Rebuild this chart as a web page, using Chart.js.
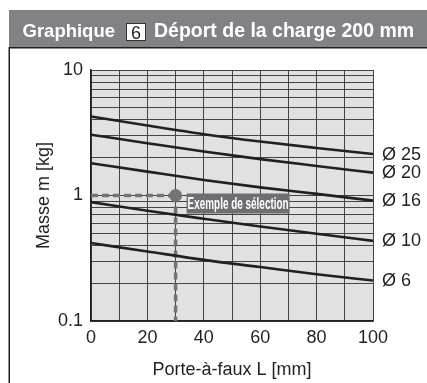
<!DOCTYPE html>
<html lang="fr">
<head>
<meta charset="utf-8">
<title>Graphique 6 - Déport de la charge 200 mm</title>
<script src="https://cdn.jsdelivr.net/npm/chart.js@4/dist/chart.umd.min.js"></script>
<style>
  html, body { margin: 0; padding: 0; background: #fff; }
  #wrap { width: 427px; height: 383px; }
</style>
</head>
<body>
<div id="wrap"><canvas id="graphique" width="427" height="383"></canvas></div>
<script>
/* graphique 6 - déport de la charge 200 mm */

const POLICE = '"Liberation Sans", Arial, Helvetica, sans-serif';
const NOIR = "#231f20";
const GRIS = "#808285";
const GRIS_EX = "#727376";

const longueurs = [0, 20, 40, 60, 80, 100];           // porte-à-faux L [mm]
const masse25 = [4.26, 3.61, 3.08, 2.69, 2.39, 2.14];  // Ø 25
const masse20 = [3.05, 2.61, 2.24, 1.95, 1.72, 1.52];  // Ø 20
const masse16 = [1.81, 1.55, 1.33, 1.16, 1.03, 0.91];  // Ø 16
const masse10 = [0.885, 0.755, 0.652, 0.566, 0.495, 0.435]; // Ø 10
const masse6 = [0.418, 0.358, 0.307, 0.269, 0.236, 0.21];   // Ø 6
const diametres = ["Ø 25", "Ø 20", "Ø 16", "Ø 10", "Ø 6"];

/* exemple de sélection */
const exempleL = [0, 30];
const exempleM = [1, 0.1];

/* graduations */
const graduationsY = [0.1, 0.2, 0.3, 0.4, 0.5, 0.6, 0.7, 0.8, 0.9,
  1, 2, 3, 4, 5, 6, 7, 8, 9, 10];
const etiquettesY = ["0.1", "1", "10"];
const etiquettesX = [0, 20, 40, 60, 80, 100];

/* ===== utilitaires ===== */
function serie(valeurs) {
  return longueurs.map((l, i) => ({ x: l, y: valeurs[i] }));
}

function courbe(valeurs) {
  return {
    data: serie(valeurs),
    borderColor: NOIR,
    borderWidth: 2.6,
    pointRadius: 0,
    cubicInterpolationMode: "monotone",
    fill: false
  };
}

/* ===== plugin : cadre, titre, fond, étiquettes ===== */
const decor = {
  id: "decor",
  beforeDraw(chart) {
    const { ctx, chartArea: a } = chart;
    ctx.save();

    // bandeau du titre
    ctx.fillStyle = GRIS;
    ctx.fillRect(9, 10, 418, 37);
    ctx.fillStyle = "#fff";
    ctx.font = "bold 18.5px " + POLICE;
    ctx.textBaseline = "alphabetic";
    ctx.textAlign = "left";
    ctx.fillText("Graphique", 22.5, 37);
    ctx.fillRect(126, 23.5, 20, 17);
    ctx.strokeStyle = "#333";
    ctx.lineWidth = 1;
    ctx.strokeRect(126.5, 23.5, 19, 17);
    ctx.fillStyle = NOIR;
    ctx.font = "18px " + POLICE;
    ctx.textAlign = "center";
    ctx.fillText("6", 136, 38.5);
    ctx.fillStyle = "#fff";
    ctx.font = "bold 19.5px " + POLICE;
    ctx.textAlign = "left";
    ctx.fillText("Déport de la charge 200 mm", 154, 37);

    // cadre
    ctx.strokeStyle = NOIR;
    ctx.lineWidth = 1.5;
    ctx.beginPath();
    ctx.moveTo(427, 47.75);
    ctx.lineTo(9.25, 47.75);
    ctx.lineTo(9.25, 383);
    ctx.stroke();

    // fond de la zone de tracé
    ctx.fillStyle = "#e1e1e2";
    ctx.fillRect(a.left, a.top, a.right - a.left, a.bottom - a.top);
    ctx.restore();
  },
  afterDatasetsDraw(chart) {
    const { ctx, scales: { x, y } } = chart;
    ctx.save();

    // étiquettes des diamètres au bout des courbes
    const fins = [masse25, masse20, masse16, masse10, masse6].map(s => s[s.length - 1]);
    ctx.fillStyle = NOIR;
    ctx.font = "18px " + POLICE;
    ctx.textAlign = "left";
    ctx.textBaseline = "middle";
    diametres.forEach((d, i) => {
      ctx.fillText(d, x.right + 9, y.getPixelForValue(fins[i]) + 0.5);
    });

    // boîte "Exemple de sélection"
    const px = x.getPixelForValue(exempleL[1]) + 11;
    const py = y.getPixelForValue(exempleM[0]) - 2;
    ctx.fillStyle = "#6d6e71";
    ctx.fillRect(px, py, 103, 20);
    ctx.fillStyle = "#fff";
    ctx.font = "bold 16.5px " + POLICE;
    ctx.textAlign = "center";
    ctx.fillText("Exemple de sélection", px + 51.5, py + 10.5, 101);
    ctx.restore();
  }
};

/* ===== graphique ===== */
const ctx = document.getElementById("graphique").getContext("2d");

new Chart(ctx, {
  type: "line",
  data: {
    datasets: [
      courbe(masse25),
      courbe(masse20),
      courbe(masse16),
      courbe(masse10),
      courbe(masse6),
      {
        data: [{ x: exempleL[0], y: exempleM[0] }, { x: exempleL[1], y: exempleM[0] }],
        borderColor: GRIS_EX,
        borderWidth: 3.5,
        borderDash: [7, 4],
        pointRadius: 0
      },
      {
        data: [{ x: exempleL[1], y: exempleM[0] }, { x: exempleL[1], y: exempleM[1] }],
        borderColor: GRIS_EX,
        borderWidth: 3.5,
        borderDash: [7, 4],
        pointRadius: 0
      },
      {
        data: [{ x: exempleL[1], y: exempleM[0] }],
        showLine: false,
        pointRadius: 6.5,
        pointBackgroundColor: GRIS_EX,
        pointBorderWidth: 0
      }
    ]
  },
  options: {
    responsive: false,
    animation: false,
    devicePixelRatio: 1,
    layout: { padding: { top: 70, right: 54, left: 0, bottom: 0 } },
    plugins: {
      legend: { display: false },
      tooltip: { enabled: false }
    },
    scales: {
      x: {
        type: "linear",
        min: 0,
        max: 100,
        afterFit: s => { s.height = 62; },
        grid: { color: "#454547", lineWidth: 1, drawTicks: false },
        border: { color: NOIR, width: 1.5 },
        ticks: {
          stepSize: 10,
          autoSkip: false,
          maxRotation: 0,
          padding: 6,
          color: NOIR,
          font: { family: POLICE, size: 18 },
          callback: v => etiquettesX.includes(v) ? String(v) : ""
        },
        title: {
          display: true,
          text: "Porte-à-faux L [mm]",
          color: NOIR,
          font: { family: POLICE, size: 18 },
          padding: { top: 0, bottom: 2.5 }
        }
      },
      y: {
        type: "logarithmic",
        min: 0.1,
        max: 10,
        afterFit: s => { s.width = 91; },
        afterBuildTicks: s => { s.ticks = graduationsY.map(v => ({ value: v })); },
        grid: { color: "#454547", lineWidth: 1, drawTicks: false },
        border: { color: NOIR, width: 1.5 },
        ticks: {
          autoSkip: false,
          padding: 8,
          color: NOIR,
          font: { family: POLICE, size: 18 },
          callback: v => etiquettesY.includes(String(v)) ? String(v) : ""
        },
        title: {
          display: true,
          text: "Masse m [kg]",
          color: NOIR,
          font: { family: POLICE, size: 18 },
          padding: { top: 33.5, bottom: 0 }
        }
      }
    }
  },
  plugins: [decor]
});
</script>
</body>
</html>
